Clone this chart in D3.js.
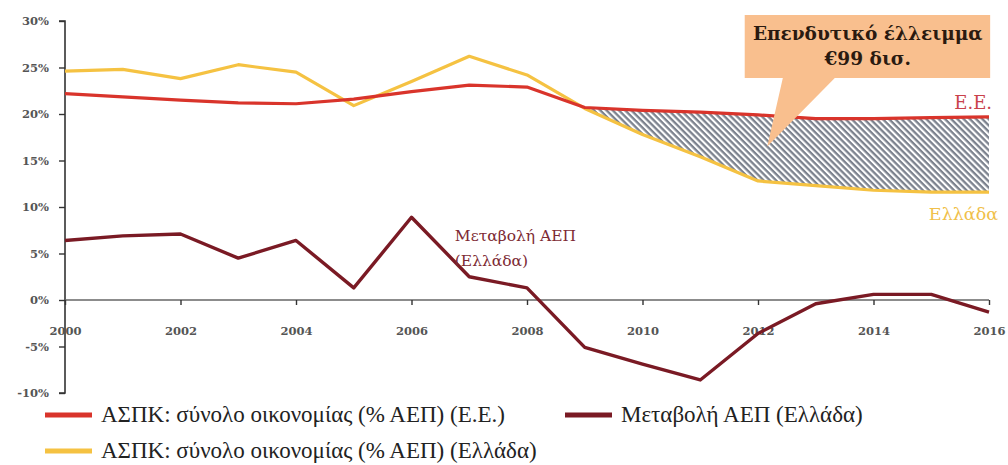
<!DOCTYPE html>
<html>
<head>
<meta charset="utf-8">
<script src="https://cdn.jsdelivr.net/npm/d3@7"></script>
<style>
html,body{margin:0;padding:0;background:#fff;}
svg{display:block;}
</style>
</head>
<body>
<svg id="chart" width="1008" height="465"></svg>
<script>
// ---- data ----
const years = [2000,2001,2002,2003,2004,2005,2006,2007,2008,2009,2010,2011,2012,2013,2014,2015,2016];
const euInvest = [22.2,21.85,21.5,21.2,21.1,21.6,22.4,23.1,22.9,20.7,20.4,20.2,19.9,19.5,19.5,19.6,19.7];
const grInvest = [24.6,24.8,23.8,25.3,24.5,20.9,23.5,26.2,24.2,20.6,17.8,15.4,12.8,12.3,11.8,11.6,11.6];
const grGdp = [6.4,6.9,7.1,4.5,6.4,1.3,8.9,2.5,1.3,-5.1,-6.9,-8.6,-3.6,-0.4,0.6,0.6,-1.3];
const yTicks = [-10,-5,0,5,10,15,20,25,30];
const xTicks = [2000,2002,2004,2006,2008,2010,2012,2014,2016];
const gapStartYear = 2009;
const seriesNames = [
  "ΑΣΠΚ: σύνολο οικονομίας (% ΑΕΠ) (Ε.Ε.)",
  "Μεταβολή ΑΕΠ (Ελλάδα)",
  "ΑΣΠΚ: σύνολο οικονομίας (% ΑΕΠ) (Ελλάδα)"
];
const calloutLines = ["Επενδυτικό έλλειμμα", "€99 δισ."];

// ---- setup ----
const svg = d3.select("#chart");
const x = d3.scaleLinear().domain([2000,2016]).range([65,989]);
const y = d3.scaleLinear().domain([-10,30]).range([393,21]);

const C = {eu:"#d9342b", gr:"#f5c242", gdp:"#7a1a24"};

// hatch pattern
const defs = svg.append("defs");
const pat = defs.append("pattern").attr("id","hatch").attr("patternUnits","userSpaceOnUse")
  .attr("width",4.4).attr("height",4.4).attr("patternTransform","rotate(45)");
pat.append("rect").attr("width",4.4).attr("height",4.4).attr("fill","#ffffff");
pat.append("rect").attr("width",4.4).attr("height",2.3).attr("fill","#7c828e");

const idx = years.map((d,i)=>i);

// hatched gap area
const gapIdx = idx.filter(i => years[i] >= gapStartYear);
svg.append("path")
  .attr("d", d3.area().x(i=>x(years[i])).y0(i=>y(grInvest[i])).y1(i=>y(euInvest[i]))(gapIdx))
  .attr("fill","url(#hatch)");

// axes
const yAxis = d3.axisLeft(y).tickValues(yTicks).tickSize(6).tickPadding(10)
  .tickFormat(d => d + "%");
const gy = svg.append("g").attr("transform",`translate(${x(2000)},0)`).call(yAxis);
gy.select(".domain").attr("stroke","#333").attr("stroke-width",1.6).attr("d",`M-6,${y(30)}H0V${y(-10)}H-6`);
gy.selectAll(".tick line").attr("stroke","#333").attr("stroke-width",1.4);
gy.selectAll(".tick text").attr("fill","#555").style("font-family","DejaVu Serif").style("font-weight","bold").style("font-size","11.5px");

const xAxis = d3.axisBottom(x).tickValues(xTicks).tickSize(5).tickPadding(22).tickFormat(d3.format("d"));
const gx = svg.append("g").attr("transform",`translate(0,${y(0)})`).call(xAxis);
gx.select(".domain").attr("stroke","#666").attr("stroke-width",1.4).attr("d",`M${x(2000)},0H${x(2016)}`);
gx.selectAll(".tick line").attr("stroke","#333").attr("stroke-width",1.4);
gx.selectAll(".tick text").attr("fill","#555").style("font-family","DejaVu Serif").style("font-weight","bold").style("font-size","11.5px");

// lines
const line = arr => d3.line().x(i=>x(years[i])).y(i=>y(arr[i]))(idx);
svg.append("path").attr("d",line(grInvest)).attr("fill","none").attr("stroke",C.gr).attr("stroke-width",3.2).attr("stroke-linejoin","round");
svg.append("path").attr("d",line(euInvest)).attr("fill","none").attr("stroke",C.eu).attr("stroke-width",3.2).attr("stroke-linejoin","round");
svg.append("path").attr("d",line(grGdp)).attr("fill","none").attr("stroke",C.gdp).attr("stroke-width",3.4).attr("stroke-linejoin","round");

// series labels
svg.append("text").attr("x",x(2016)+3).attr("y",y(euInvest[16])-8).attr("text-anchor","end")
  .attr("fill","#c9414a").style("font-family","DejaVu Serif").style("font-size","18px").text("Ε.Ε.");
svg.append("text").attr("x",x(2016)+9).attr("y",y(grInvest[16])+28).attr("text-anchor","end")
  .attr("fill","#f0c04a").style("font-family","DejaVu Serif").style("font-size","17.5px").text("Ελλάδα");
const gdpLab = svg.append("text").attr("fill","#7d2a33").style("font-family","DejaVu Serif").style("font-size","15.5px");
gdpLab.append("tspan").attr("x",x(2006.75)).attr("y",y(6.3)).text("Μεταβολή ΑΕΠ");
gdpLab.append("tspan").attr("x",x(2006.75)).attr("y",y(3.7)).text("(Ελλάδα)");

// callout
const co = svg.append("g");
co.append("path").attr("fill","#f9bf8e")
  .attr("d", `M${x(2011.77)},${y(30.65)}H${x(2016.02)}V${y(23.87)}H${x(2013.33)}L${x(2012.16)},${y(16.5)}L${x(2012.43)},${y(23.87)}H${x(2011.77)}Z`);
const ct = co.append("text").attr("text-anchor","middle").attr("fill","#2a1a10")
  .style("font-family","DejaVu Serif").style("font-weight","bold").style("font-size","18.5px");
ct.append("tspan").attr("x",x(2013.9)).attr("y",y(28.0)).text(calloutLines[0]);
ct.append("tspan").attr("x",x(2013.9)).attr("y",y(25.3)).text(calloutLines[1]);

// legend
const legend = [
  {name:seriesNames[0], color:C.eu, lx:45, ly:415},
  {name:seriesNames[1], color:C.gdp, lx:565, ly:415},
  {name:seriesNames[2], color:C.gr, lx:45, ly:451}
];
const lg = svg.append("g").selectAll("g").data(legend).join("g").attr("transform",d=>`translate(${d.lx},${d.ly})`);
lg.append("line").attr("x1",0).attr("x2",47).attr("y1",0).attr("y2",0).attr("stroke",d=>d.color).attr("stroke-width",5);
lg.append("text").attr("x",56).attr("y",7).attr("fill","#222").style("font-family","\"Liberation Serif\"").style("font-size","23px").text(d=>d.name);
</script>
</body>
</html>
